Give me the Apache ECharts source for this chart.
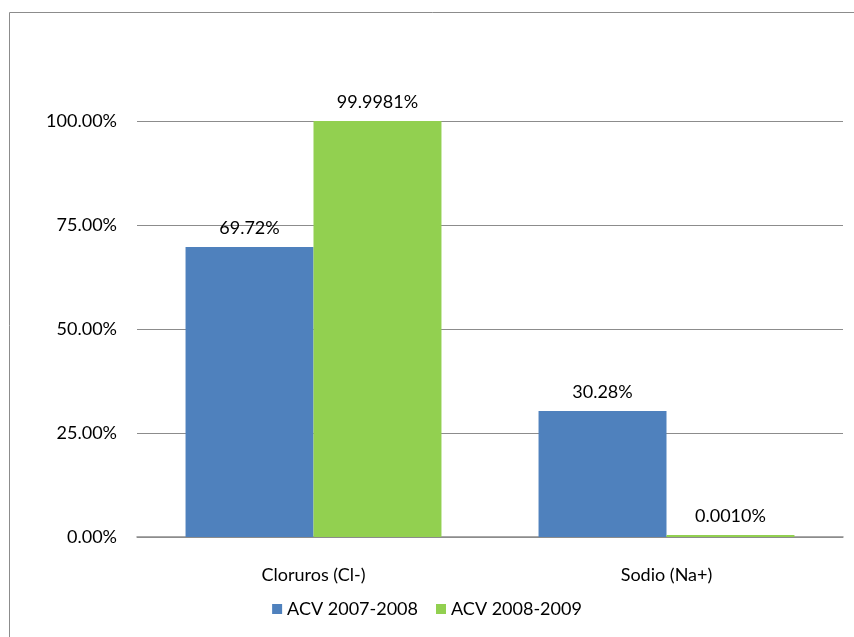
<!DOCTYPE html>
<html><head><meta charset="utf-8">
<script src="https://cdn.jsdelivr.net/npm/echarts@6/dist/echarts.min.js"></script>
<style>html,body{margin:0;padding:0;background:#fff}#c{width:854px;height:637px}</style>
</head><body><div id="c"></div>
<script>
const categories = ["Cloruros (Cl-)", "Sodio (Na+)"];
const seriesNames = ["ACV 2007-2008", "ACV 2008-2009"];
const acv0708 = [69.72, 30.28];
const acv0809 = [99.9981, 0.0010];
const labelDecimals = [2, 4];
const yTicks = [0, 25, 50, 75, 100];

const font = "Lato, 'Open Sans', sans-serif";
const fs = 18;
const chart = echarts.init(document.getElementById('c'));
function mk(name, data, color, dec) {
  return {
    name: name, type: 'bar', data: data, barGap: '0%', barCategoryGap: '27.5%', barMinHeight: 2,
    itemStyle: { color: color },
    label: { show: true, position: 'top', distance: 10, color: '#000', fontFamily: font, fontSize: fs,
      formatter: p => p.value.toFixed(dec) + '%' }
  };
}
chart.setOption({
  animation: false,
  graphic: [{ type: 'rect', shape: { x: 9.5, y: 12.5, width: 860, height: 640 },
    style: { fill: 'none', stroke: '#8c8c8c', lineWidth: 1 } }],
  grid: { left: 137, right: 11, top: 121, bottom: 100, containLabel: false },
  legend: { bottom: 14, left: 'center', itemWidth: 10, itemHeight: 10, itemGap: 18, itemTextGap: 6, icon: 'rect',
    textStyle: { fontFamily: font, fontSize: fs, color: '#000' }, data: seriesNames },
  xAxis: { type: 'category', data: categories,
    axisLine: { lineStyle: { color: '#8c8c8c', width: 1.5 } }, axisTick: { show: false },
    axisLabel: { color: '#000', fontFamily: font, fontSize: fs, margin: 29 } },
  yAxis: { type: 'value', min: yTicks[0], max: yTicks[yTicks.length - 1], interval: 25,
    axisLine: { show: false }, axisTick: { show: false },
    splitLine: { lineStyle: { color: '#8c8c8c', width: 1 } },
    axisLabel: { color: '#000', fontFamily: font, fontSize: fs, margin: 20,
      formatter: v => v.toFixed(2) + '%' } },
  series: [mk(seriesNames[0], acv0708, '#4F81BD', labelDecimals[0]), mk(seriesNames[1], acv0809, '#92D050', labelDecimals[1])]
});
</script></body></html>
